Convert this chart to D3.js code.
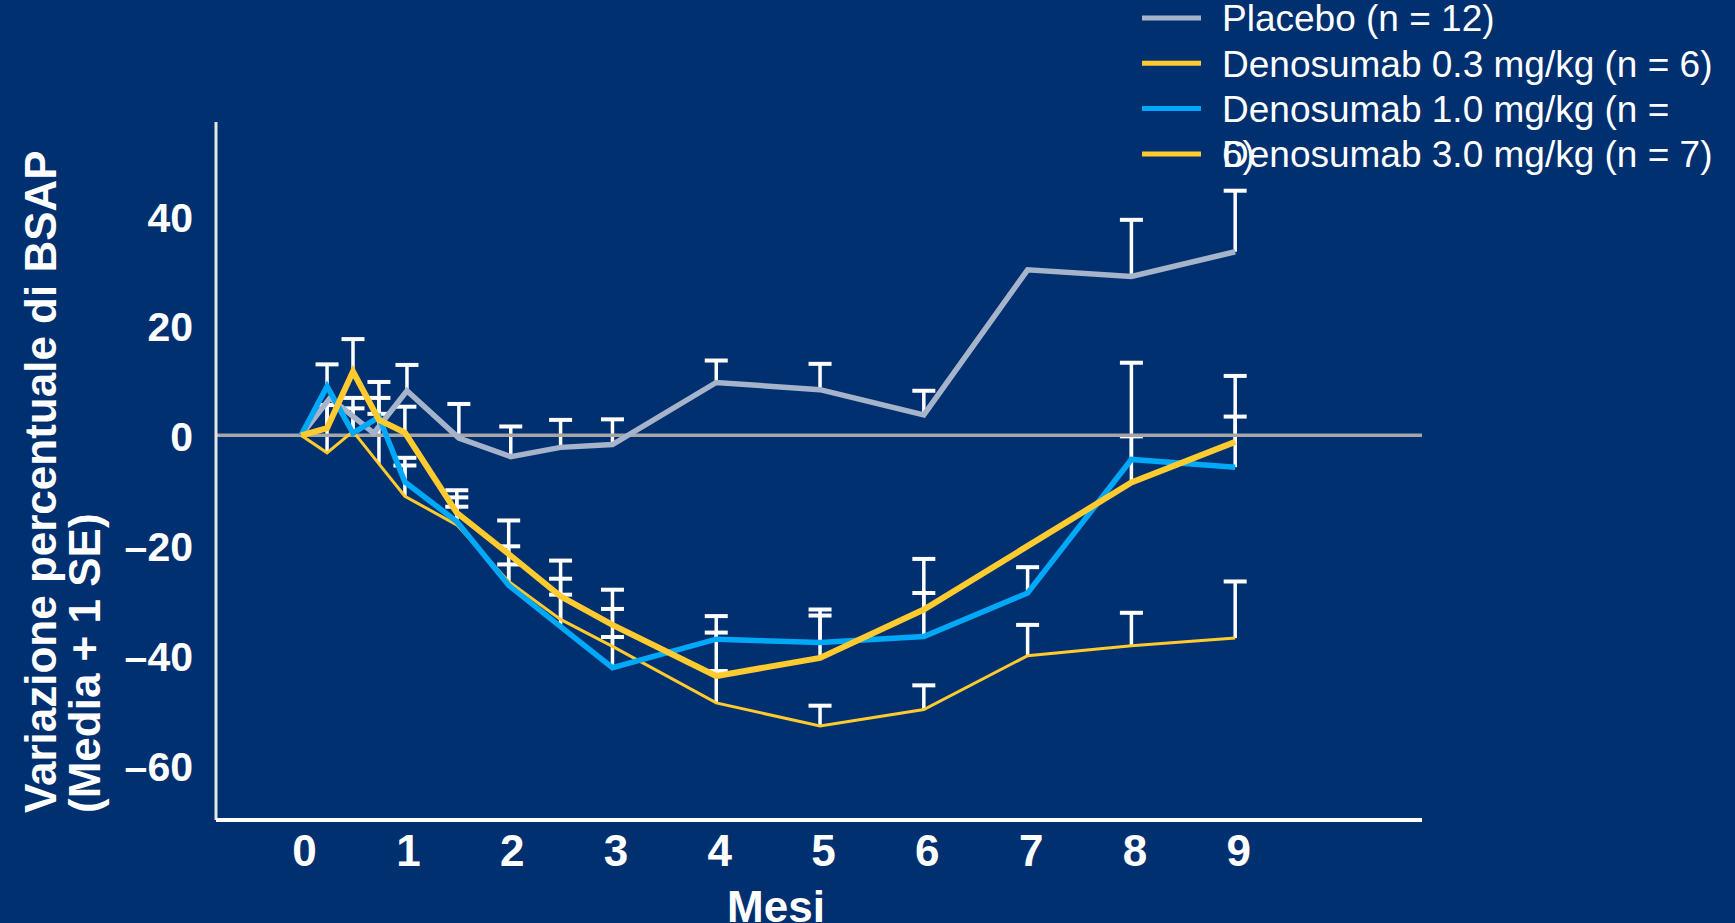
<!DOCTYPE html>
<html>
<head>
<meta charset="utf-8">
<script src="https://cdn.jsdelivr.net/npm/d3@7"></script>
<style>
  html, body { margin: 0; padding: 0; background: #003070; }
  svg { display: block; font-family: "Liberation Sans", Arial, sans-serif; }
</style>
</head>
<body>
<svg id="chart"></svg>
<script>
// months on x, percent change of BSAP on y (mean, and mean + 1 SE)
const placeboMonths = [0, 0.28, 0.7, 1.02, 1.52, 2.02, 2.5, 3, 4, 5, 6, 7, 8, 9];
const placeboMean   = [0, 6.8, 0.4, 8.1, -0.5, -3.9, -2.2, -1.7, 9.6, 8.3, 3.7, 30.1, 28.9, 33.4];
const placeboUpper  = [null, null, null, 12.8, 5.7, 1.6, 2.8, 2.9, 13.6, 13.0, 8.1, null, 39.2, 44.5];

const dose03Months = [0, 0.25, 0.5, 0.75, 1, 1.5, 2, 2.5, 3, 4, 5, 6, 8, 9];
const dose03Mean   = [0, 1.3, 11.6, 2.8, 0.5, -14.1, -21.6, -29.3, -34.5, -43.8, -40.5, -31.7, -8.6, -1.2];
const dose03Upper  = [null, 5.5, 17.5, 6.8, 5.2, -10.0, -15.5, -22.8, -28.1, -35.9, -32.8, -22.5, 13.2, 3.4];

const dose10Months = [0, 0.25, 0.5, 0.75, 1, 1.5, 2, 2.5, 3, 4, 5, 6, 7, 8, 9];
const dose10Mean   = [0, 8.9, 0.4, 3.3, -8.5, -15.7, -27.3, -34.8, -42.3, -37.1, -37.7, -36.6, -28.7, -4.4, -5.8];
const dose10Upper  = [null, 12.9, 6.8, 9.7, -4.1, -11.3, -20.2, -26.1, -36.7, -32.9, -31.7, -28.7, -24.0, -0.2, 10.8];

const dose30Months = [0, 0.25, 0.5, 0.75, 1, 1.5, 2, 2.5, 3, 4, 5, 6, 7, 8, 9];
const dose30Mean   = [0, -3.2, 0.7, -5.2, -11.1, -16.3, -26.6, -33.5, -38.4, -48.7, -52.9, -49.9, -40.1, -38.3, -36.9];
const dose30Upper  = [null, 5.5, 4.9, 3.9, -5.5, -13.0, -23.5, -29.0, -31.6, -42.9, -49.2, -45.5, -34.5, -32.3, -26.6];

const legendLabels = [
  "Placebo (n = 12)",
  "Denosumab 0.3 mg/kg (n = 6)",
  "Denosumab 1.0 mg/kg (n =\n6)",
  "Denosumab 3.0 mg/kg (n = 7)"
];
const xTicks = [0, 1, 2, 3, 4, 5, 6, 7, 8, 9];
const yTicks = [-60, -40, -20, 0, 20, 40];
const yTitle = ["Variazione percentuale di BSAP", "(Media + 1 SE)"];
const xTitle = "Mesi";

const [W, H] = [1735, 923];
const plot = {left: 216, right: 1422, top: 122, bottom: 820};

const series = [
  {months: placeboMonths, mean: placeboMean, upper: placeboUpper, color: "#a5b3cb", width: 5.5},
  {months: dose03Months, mean: dose03Mean, upper: dose03Upper, color: "#ffcb2e", width: 6},
  {months: dose10Months, mean: dose10Mean, upper: dose10Upper, color: "#00a8f8", width: 5.5},
  {months: dose30Months, mean: dose30Mean, upper: dose30Upper, color: "#ffcb2e", width: 3}
];
const drawOrder = [3, 0, 2, 1];

const xScale = d3.scaleLinear()
    .domain([-0.82, 10.8])
    .range([plot.left, plot.right]);

const yScale = d3.scaleLinear()
    .domain([-70, 57])
    .range([plot.bottom, plot.top]);

const svg = d3.select("#chart")
    .attr("width", W)
    .attr("height", H);

svg.append("rect")
    .attr("width", W)
    .attr("height", H)
    .attr("fill", "#003070");

// error bars (mean up to mean + 1 SE)
const bars = [];
series.forEach(s => s.months.forEach((m, i) => {
  if (s.upper[i] !== null) bars.push({m, lo: s.mean[i], hi: s.upper[i]});
}));

const eb = svg.append("g").attr("class", "errorbars");
eb.selectAll("line.stem")
  .data(bars)
  .enter()
  .append("line")
  .attr("x1", d => xScale(d.m))
  .attr("x2", d => xScale(d.m))
  .attr("y1", d => yScale(d.lo))
  .attr("y2", d => yScale(d.hi))
  .attr("stroke", "#ffffff")
  .attr("stroke-width", 3.5);
eb.selectAll("line.cap")
  .data(bars)
  .enter()
  .append("line")
  .attr("x1", d => xScale(d.m) - 11.5)
  .attr("x2", d => xScale(d.m) + 11.5)
  .attr("y1", d => yScale(d.hi))
  .attr("y2", d => yScale(d.hi))
  .attr("stroke", "#ffffff")
  .attr("stroke-width", 4);

// zero reference line
svg.append("line")
    .attr("x1", plot.left)
    .attr("x2", plot.right)
    .attr("y1", yScale(0))
    .attr("y2", yScale(0))
    .attr("stroke", "#a6a6a6")
    .attr("stroke-width", 3.5);

const line = d3.line()
    .x(d => xScale(d[0]))
    .y(d => yScale(d[1]));

svg.append("g")
  .selectAll("path")
  .data(drawOrder.map(i => series[i]))
  .enter()
  .append("path")
  .attr("d", s => line(s.months.map((m, i) => [m, s.mean[i]])))
  .attr("fill", "none")
  .attr("stroke", s => s.color)
  .attr("stroke-width", s => s.width)
  .attr("stroke-linejoin", "miter");

// axes
const yAxis = d3.axisLeft(yScale)
    .tickValues(yTicks)
    .tickSize(0)
    .tickPadding(23)
    .tickFormat(d => String(d).replace("-", "\u2013"));

const gy = svg.append("g")
    .attr("transform", `translate(${plot.left},0)`)
    .call(yAxis);
gy.select(".domain")
    .attr("d", `M0,${plot.top}V${plot.bottom}`)
    .attr("stroke", "#e6e6e6")
    .attr("stroke-width", 3);
gy.selectAll("text")
    .attr("fill", "#ffffff")
    .attr("font-size", 41)
    .attr("font-weight", "bold")
    .attr("font-family", "Liberation Sans, Arial, sans-serif")
    .attr("dy", "0.38em");

const xAxis = d3.axisBottom(xScale)
    .tickValues(xTicks)
    .tickSize(0)
    .tickPadding(15);

const gx = svg.append("g")
    .attr("transform", `translate(0,${plot.bottom})`)
    .call(xAxis);
gx.select(".domain")
    .attr("d", `M${plot.left},0H${plot.right}`)
    .attr("stroke", "#ffffff")
    .attr("stroke-width", 4);
gx.selectAll("text")
    .attr("fill", "#ffffff")
    .attr("font-size", 44)
    .attr("font-weight", "bold")
    .attr("font-family", "Liberation Sans, Arial, sans-serif")
    .attr("dx", 3);

svg.append("text")
    .attr("x", 776)
    .attr("y", 922)
    .attr("text-anchor", "middle")
    .attr("fill", "#ffffff")
    .attr("font-size", 44)
    .attr("font-weight", "bold")
    .text(xTitle);

svg.selectAll("text.ytitle")
  .data(yTitle)
  .enter()
  .append("text")
  .attr("class", "ytitle")
  .attr("transform", (d, i) => `translate(${[56 + i * 44, 813]}) rotate(-90)`)
  .attr("fill", "#ffffff")
  .attr("font-size", 44)
  .attr("font-weight", "bold")
  .text(d => d);

// legend
const legendColors = series.map(s => s.color);
const lg = svg.append("g").attr("transform", "translate(1142,18)");
const items = lg.selectAll("g")
  .data(legendLabels)
  .enter()
  .append("g")
  .attr("transform", (d, i) => `translate(0,${i * 45.3})`);
items.append("line")
  .attr("x1", 0)
  .attr("x2", 59)
  .attr("stroke", (d, i) => legendColors[i])
  .attr("stroke-width", 5);
items.append("text")
  .attr("fill", "#ffffff")
  .attr("font-size", 37)
  .each(function(d) {
    const t = d3.select(this);
    d.split("\n").forEach((part, k) => {
      t.append("tspan")
        .attr("x", 80)
        .attr("y", k * 45.3)
        .attr("dy", "0.36em")
        .text(part);
    });
  });
</script>
</body>
</html>
